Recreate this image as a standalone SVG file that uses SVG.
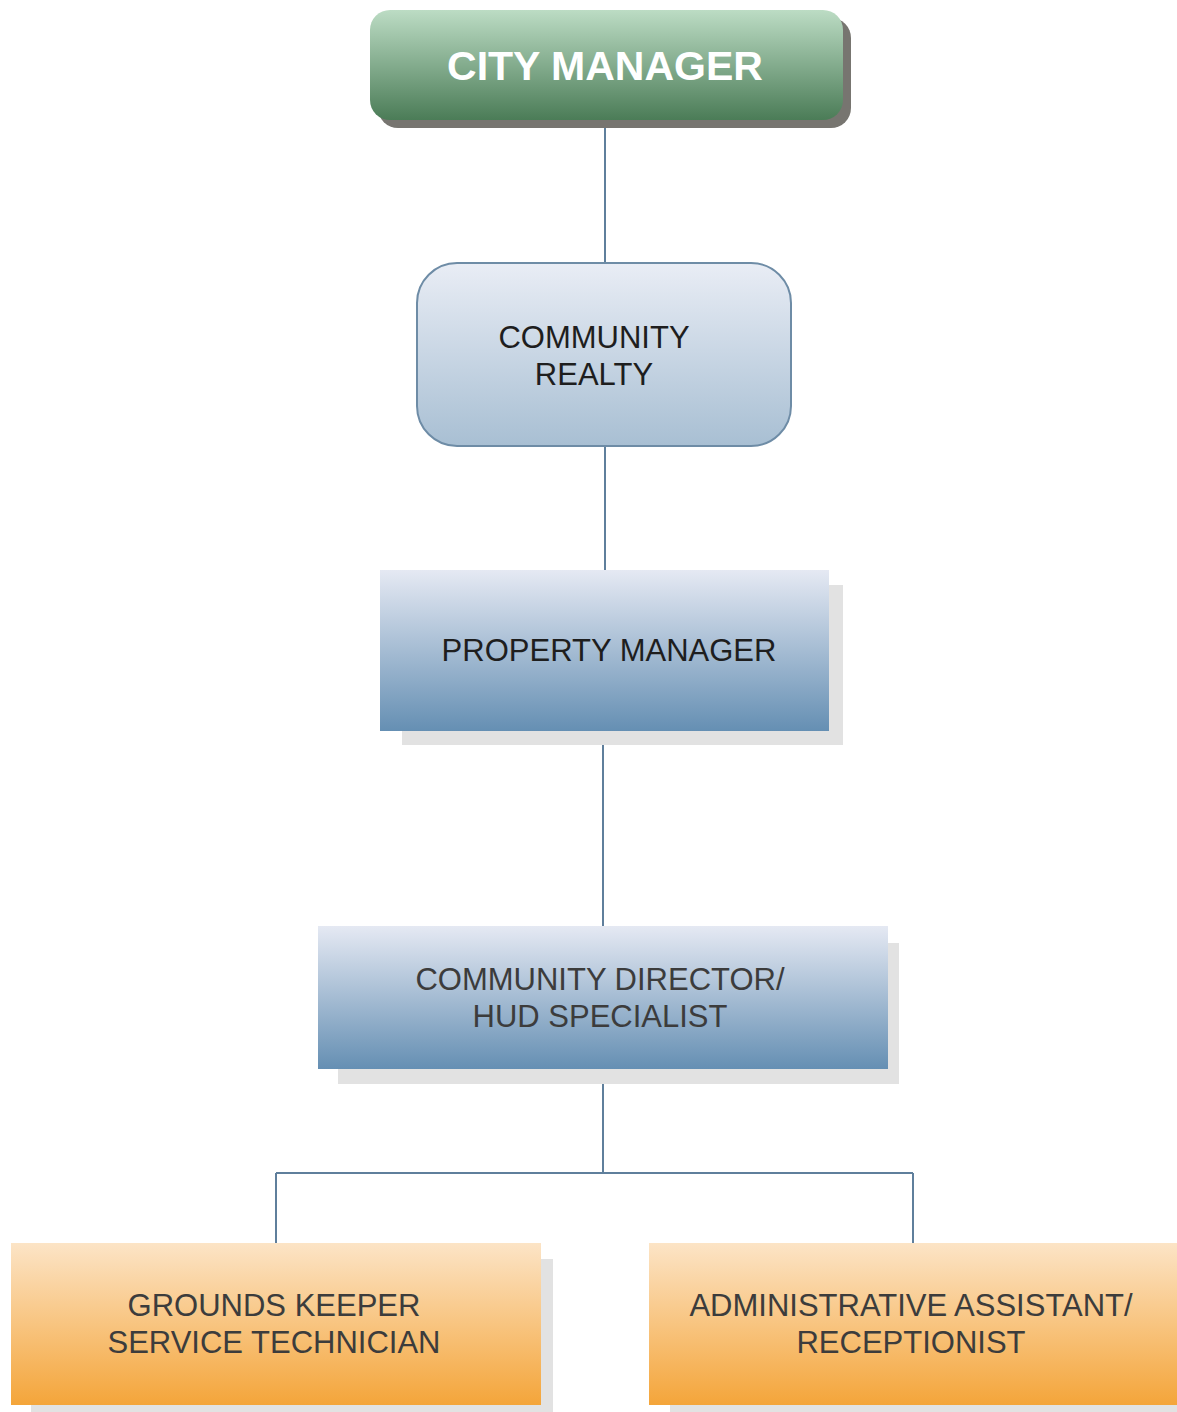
<svg xmlns="http://www.w3.org/2000/svg" width="1177" height="1412" viewBox="0 0 1177 1412">
<defs>
<linearGradient id="gGreen" x1="0" y1="0" x2="0" y2="1">
<stop offset="0" stop-color="#bcdcc4"/>
<stop offset="1" stop-color="#4b7c57"/>
</linearGradient>
<linearGradient id="gLight" x1="0" y1="0" x2="0" y2="1">
<stop offset="0" stop-color="#e9edf5"/>
<stop offset="1" stop-color="#a8bfd3"/>
</linearGradient>
<linearGradient id="gBlue" x1="0" y1="0" x2="0" y2="1">
<stop offset="0" stop-color="#e5e9f3"/>
<stop offset="1" stop-color="#658fb3"/>
</linearGradient>
<linearGradient id="gOrange" x1="0" y1="0" x2="0" y2="1">
<stop offset="0" stop-color="#fce4c6"/>
<stop offset="1" stop-color="#f4a53a"/>
</linearGradient>
</defs>
<style>
.t{font-family:"Liberation Sans",Arial,sans-serif;font-size:31px;text-anchor:middle;fill:#1e1e1e}
.tg{fill:#3c3c3c}
.sh{fill:#e2e2e2}
.conn{stroke:#5f7f9c;stroke-width:2;fill:none}
</style>
<g id="connectors">
<path class="conn" d="M605 120V263M605 446V570M603 731V926M603 1069V1173M276 1173H913M276 1173V1243M913 1173V1243"/>
</g>
<g id="city-manager">
<rect x="378" y="18" width="473" height="110" rx="20" fill="#777570"/>
<rect x="370" y="10" width="473" height="110" rx="20" fill="url(#gGreen)"/>
<text x="605" y="80" class="t" style="font-size:41px;font-weight:bold;fill:#ffffff">CITY MANAGER</text>
</g>
<g id="community-realty">
<rect x="417" y="263" width="374" height="183" rx="40" fill="url(#gLight)" stroke="#6e8ca6" stroke-width="2"/>
<text x="594" y="348" class="t">COMMUNITY</text>
<text x="594" y="385" class="t">REALTY</text>
</g>
<g id="property-manager">
<rect class="sh" x="402" y="585" width="441" height="160"/>
<rect x="380" y="570" width="449" height="161" fill="url(#gBlue)"/>
<text x="609" y="661" class="t">PROPERTY MANAGER</text>
</g>
<g id="community-director">
<rect class="sh" x="338" y="943" width="561" height="141"/>
<rect x="318" y="926" width="570" height="143" fill="url(#gBlue)"/>
<text x="600" y="990" class="t tg">COMMUNITY DIRECTOR/</text>
<text x="600" y="1027" class="t tg">HUD SPECIALIST</text>
</g>
<g id="grounds-keeper">
<rect class="sh" x="31" y="1259" width="522" height="153"/>
<rect x="11" y="1243" width="530" height="162" fill="url(#gOrange)"/>
<text x="274" y="1316" class="t tg">GROUNDS KEEPER</text>
<text x="274" y="1353" class="t tg">SERVICE TECHNICIAN</text>
</g>
<g id="admin-assistant">
<rect class="sh" x="670" y="1259" width="507" height="153"/>
<rect x="649" y="1243" width="528" height="162" fill="url(#gOrange)"/>
<text x="911" y="1316" class="t tg">ADMINISTRATIVE ASSISTANT/</text>
<text x="911" y="1353" class="t tg">RECEPTIONIST</text>
</g>
</svg>
